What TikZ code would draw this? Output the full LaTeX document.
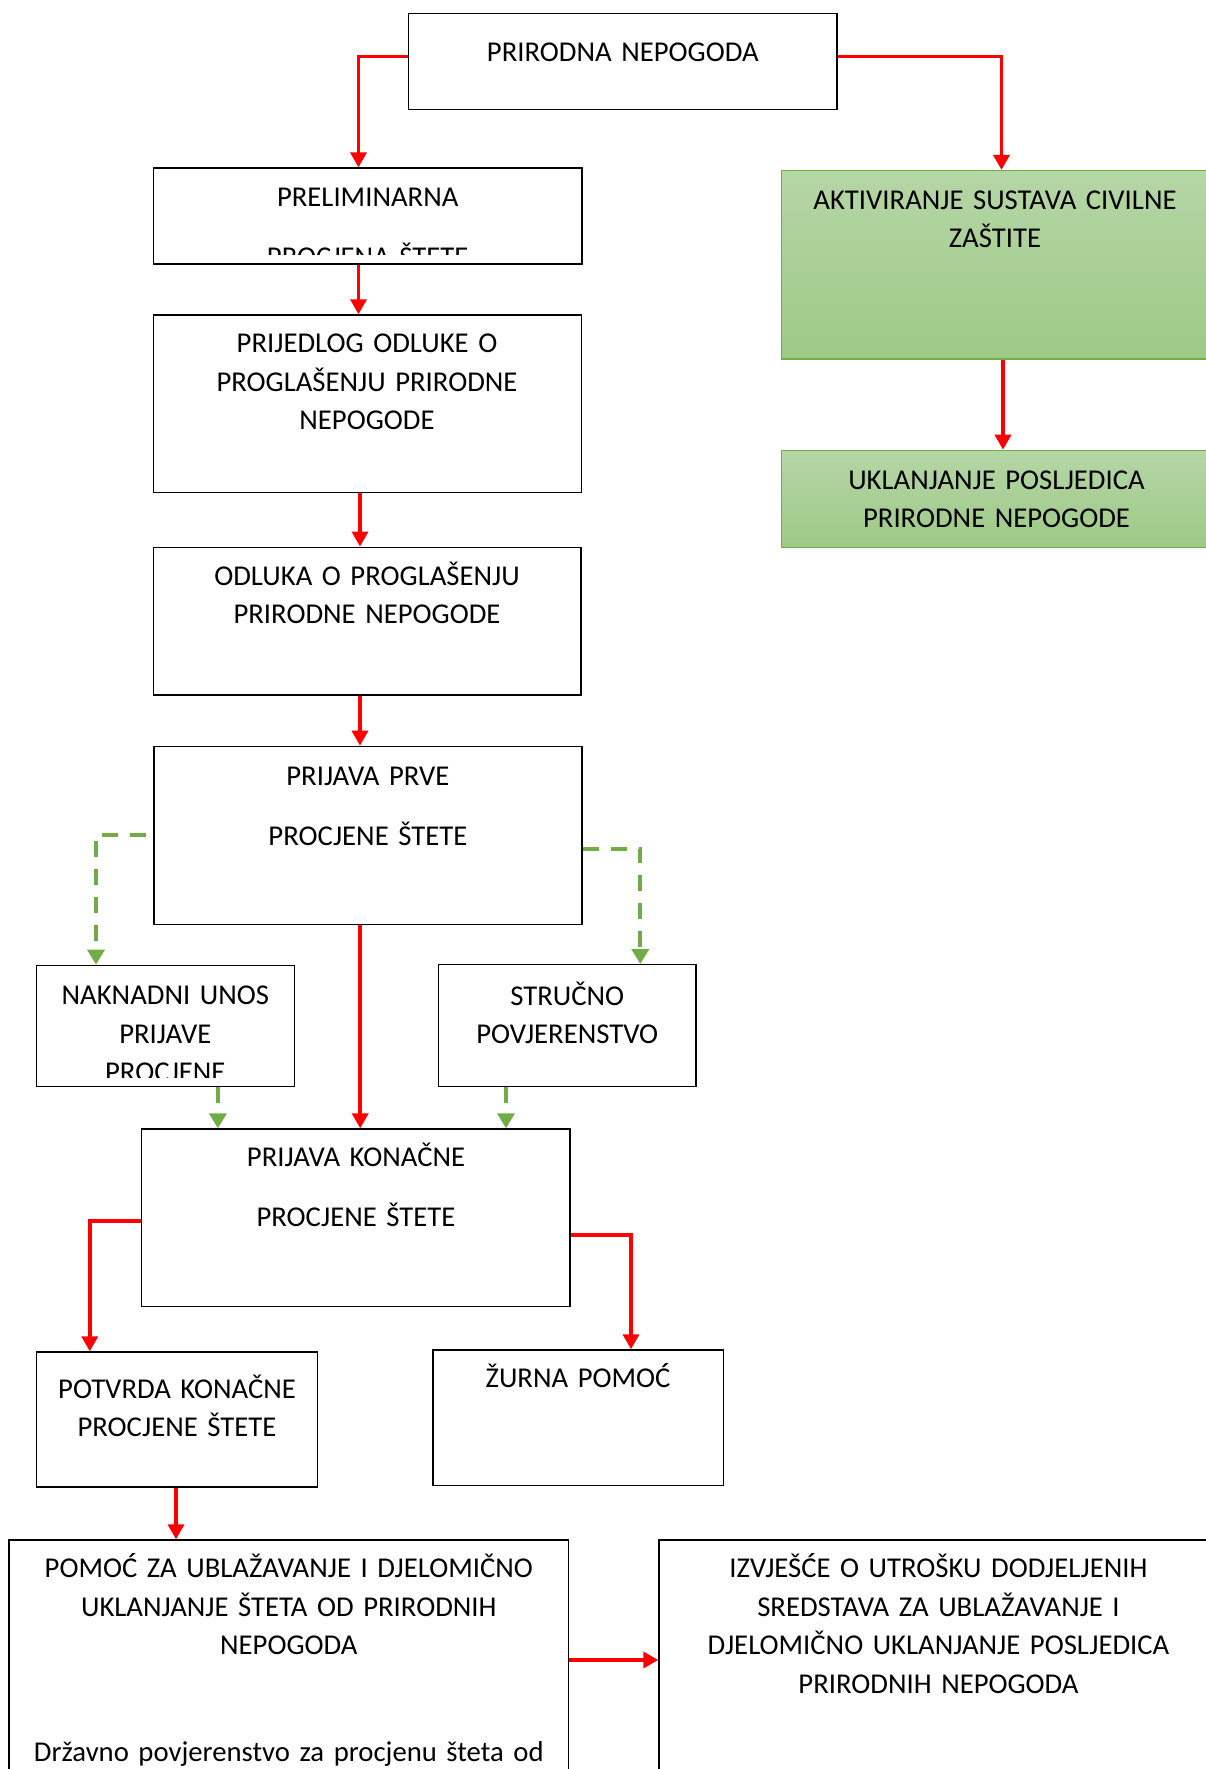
\documentclass[tikz,border=0pt]{standalone}
\usepackage{fontspec}
\setmainfont{Carlito}
\usetikzlibrary{arrows.meta}
\definecolor{arrowred}{RGB}{255,0,0}
\definecolor{dashgreen}{RGB}{112,173,71}
\definecolor{greentop}{RGB}{181,214,166}
\definecolor{greenbot}{RGB}{157,201,133}
\tikzset{
    box/.style={rectangle, draw=black, line width=1.4pt, inner sep=0pt},
    greenbox/.style={rectangle, draw=dashgreen, line width=1.5pt, inner sep=0pt,
    	top color=greentop, bottom color=greenbot},
    txt/.style={anchor=base, inner sep=0pt, text width=#1, align=center,
    	font=\fontsize{28.7}{38.5}\selectfont},
    txt/.default=420pt,
    redarrow/.style={draw=arrowred, line width=3.6pt, -{Triangle[width=16pt,length=15pt]}},
    greenarrow/.style={draw=dashgreen, line width=4pt, dash pattern=on 16pt off 12pt,
    	-{Triangle[width=17pt,length=15pt]}}
}
\begin{document}
\begin{tikzpicture}[x=1pt, y=-1pt]
	\useasboundingbox (0,0) rectangle (1206,1769);
	\node (1) [box, minimum width=428.7pt, minimum height=95.9pt] at (622.8,61.5) {};
	\node (2) [box, minimum width=428.4pt, minimum height=95.9pt] at (367.8,216) {};
	\node (3) [box, minimum width=427.7pt, minimum height=177.5pt] at (367.6,403.7) {};
	\node (4) [box, minimum width=427.6pt, minimum height=147.8pt] at (367.2,621.1) {};
	\node (5) [box, minimum width=428pt, minimum height=178.1pt] at (368,835.4) {};
	\node (6) [box, minimum width=257.7pt, minimum height=121.4pt] at (165.5,1026) {};
	\node (7) [box, minimum width=257.1pt, minimum height=121.9pt] at (567.3,1025.7) {};
	\node (8) [box, minimum width=428.1pt, minimum height=177.6pt] at (355.8,1217.8) {};
	\node (9) [box, minimum width=280.6pt, minimum height=135pt] at (177,1419.5) {};
	\node (10) [box, minimum width=290.3pt, minimum height=135.7pt] at (578.3,1417.8) {};
	\node (11) [box, minimum width=559.3pt, minimum height=240pt] at (288.8,1660) {};
	\node (12) [box, minimum width=559pt, minimum height=240pt] at (938.5,1660) {};
	\node (13) [greenbox, minimum width=426.5pt, minimum height=188.3pt] at (994.7,264.8) {};
	\node (14) [greenbox, minimum width=428.5pt, minimum height=96.9pt] at (995.7,498.9) {};

	\node (t1) [txt] at (622.8,61.6) {PRIRODNA NEPOGODA};
	\begin{scope}
		\clip (2.north west) rectangle ([yshift=10pt]2.south east);
		\node (t2) [txt] at (367.7,206) {PRELIMINARNA\\[21.5pt] PROCJENA ŠTETE};
	\end{scope}
	\node (t3) [txt] at (367,352.8) {PRIJEDLOG ODLUKE O\\ PROGLAŠENJU PRIRODNE\\ NEPOGODE};
	\node (t4) [txt] at (367,585) {ODLUKA O PROGLAŠENJU\\ PRIRODNE NEPOGODE};
	\node (t5) [txt] at (367.9,785.7) {PRIJAVA PRVE\\[21.5pt] PROCJENE ŠTETE};
	\begin{scope}
		\clip (6.north west) rectangle ([yshift=10pt]6.south east);
		\node (t6) [txt=250pt] at (165.3,1004.6) {NAKNADNI UNOS\\ PRIJAVE\\ PROCJENE};
	\end{scope}
	\node (t7) [txt=250pt] at (567.3,1005) {STRUČNO\\ POVJERENSTVO};
	\node (t8) [txt] at (356,1166.8) {PRIJAVA KONAČNE\\[21.5pt] PROCJENE ŠTETE};
	\node (t9) [txt=270pt] at (177,1398) {POTVRDA KONAČNE\\ PROCJENE ŠTETE};
	\node (t10) [txt=280pt] at (578,1387.8) {ŽURNA POMOĆ};
	\node (t11) [txt=550pt] at (288.8,1577.7) {POMOĆ ZA UBLAŽAVANJE I DJELOMIČNO\\ UKLANJANJE ŠTETA OD PRIRODNIH\\ NEPOGODA\\[68pt] Državno povjerenstvo za procjenu šteta od};
	\node (t12) [txt=550pt] at (938.5,1577.7) {IZVJEŠĆE O UTROŠKU DODJELJENIH\\ SREDSTAVA ZA UBLAŽAVANJE I\\ DJELOMIČNO UKLANJANJE POSLJEDICA\\ PRIRODNIH NEPOGODA};
	\node (t13) [txt] at (995,209.3) {AKTIVIRANJE SUSTAVA CIVILNE\\ ZAŠTITE};
	\node (t14) [txt] at (996.5,489) {UKLANJANJE POSLJEDICA\\ PRIRODNE NEPOGODE};

	\draw [redarrow] ([yshift=4.9pt]1.west) -| ([xshift=-9.3pt]2.north);
	\draw [redarrow] ([yshift=4.9pt]1.east) -| ([xshift=6.8pt]13.north);
	\draw [redarrow] ([xshift=-9.3pt]2.south) -- ([xshift=-9.3pt]2.south |- 3.north);
	\draw [redarrow] ([xshift=-7.6pt]3.south) -- ([xshift=-7.6pt]3.south |- 4.north);
	\draw [redarrow] ([xshift=-7.2pt]4.south) -- ([xshift=-7.2pt]4.south |- 5.north);
	\draw [redarrow] ([xshift=-7.8pt]5.south) -- ([xshift=-7.8pt]5.south |- 8.north);
	\draw [redarrow] ([xshift=8.3pt]13.south) -- ([xshift=8.3pt]13.south |- 14.north);
	\draw [greenarrow, dash phase=21pt] (5.west) -| ([xshift=-69.5pt]6.north);
	\draw [greenarrow] ([yshift=-13.6pt]5.east) -| ([xshift=73pt]7.north);
	\draw [greenarrow] ([xshift=52.4pt]6.south) -- ([xshift=52.4pt]6.south |- 8.north);
	\draw [greenarrow] ([xshift=-61.3pt]7.south) -- ([xshift=-61.3pt]7.south |- 8.north);
	\draw [redarrow] ([yshift=-3.2pt]8.west) -| ([xshift=-87.2pt]9.north);
	\draw [redarrow] ([yshift=-17.2pt]8.east) -| ([xshift=52.7pt]10.north);
	\draw [redarrow] ([xshift=-1pt]9.south) -- ([xshift=-1pt]9.south |- 11.north);
	\draw [redarrow] (11.east) -- (12.west);
\end{tikzpicture}
\end{document}
